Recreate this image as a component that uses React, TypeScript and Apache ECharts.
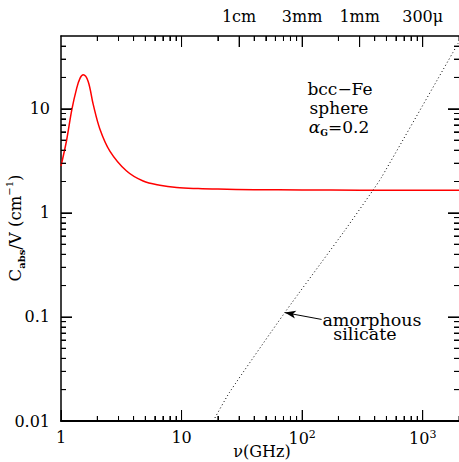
import { useEffect, useRef } from "react";
import * as echarts from "echarts";

// Absorption per unit volume of a bcc-Fe sphere (alpha_G = 0.2) vs frequency
const feFreqGHz = [1, 1.11, 1.23, 1.35, 1.44, 1.53, 1.68, 1.85, 2.1, 2.55, 3.5, 4.8, 6.6, 9.1, 13.7, 20, 40, 100, 300, 1000, 2000];
const feAbs = [2.82, 4.9, 9.8, 15.8, 19.7, 21.2, 18.3, 11.0, 6.4, 3.9, 2.52, 2.02, 1.84, 1.75, 1.71, 1.69, 1.67, 1.66, 1.65, 1.65, 1.65];

// Amorphous silicate for comparison
const silFreqGHz = [18.3, 25.1, 71.8, 225, 387, 454, 2000];
const silAbs = [0.01, 0.019, 0.11, 0.673, 1.65, 2.18, 44];

// Arrow from the "amorphous silicate" label to the curve
const arrowFrom = [145, 0.0946];
const arrowTo = [71.8, 0.11];

// Axis ranges and ticks (GHz, cm^-1)
const xRange = [1, 2000];
const yRange = [0.01, 50];
const xMajor = [1, 10, 100, 1000];
const xMinor = [2, 3, 4, 5, 6, 7, 8, 9, 20, 30, 40, 50, 60, 70, 80, 90, 200, 300, 400, 500, 600, 700, 800, 900, 2000];
const topMajor = [10, 30, 100, 300, 1000];
const topMinor = [2, 3, 4, 5, 6, 7, 8, 9, 20, 40, 50, 60, 70, 80, 90, 200, 400, 500, 600, 700, 800, 900, 2000];
const topLabelFreq = [30, 100, 300, 1000];
const topLabelText = ["1cm", "3mm", "1mm", "300\u03bc"];
const bottomLabelText = ["1", "10", "{b|10}{s|2}", "{b|10}{s|3}"];
const yMajor = [0.01, 0.1, 1, 10];
const yMinor = [0.02, 0.03, 0.04, 0.05, 0.06, 0.07, 0.08, 0.09, 0.2, 0.3, 0.4, 0.5, 0.6, 0.7, 0.8, 0.9, 2, 3, 4, 5, 6, 7, 8, 9, 20, 30, 40];
const yLabelText = ["0.01", "0.1", "1", "10"];

const FONT = "DejaVu Serif";
const WIDTH = 459;
const HEIGHT = 462;
const GRID = { left: 61, right: 0, top: 36, bottom: 41 };
const MAJOR_LEN = 11; // px
const MINOR_LEN = 5; // px

// Decades are plotted on linear value axes; the offsets keep zero off both axes
const X_OFF = 1;
const Y_OFF = 3;
const tx = (v: number) => Math.log10(v) + X_OFF;
const ty = (v: number) => Math.log10(v) + Y_OFF;
const pick = (vals: number[], texts: string[], t: (v: number) => number) => (v: number) => {
  const i = vals.findIndex((a) => Math.abs(t(a) - v) < 1e-6);
  return i >= 0 ? texts[i] : "";
};

const xLo = tx(xRange[0]);
const xHi = tx(xRange[1]);
const yLo = ty(yRange[0]);
const yHi = ty(yRange[1]);
const xPerPx = (xHi - xLo) / (WIDTH - GRID.left - GRID.right);
const yPerPx = (yHi - yLo) / (HEIGHT - GRID.top - GRID.bottom);

// Inward frame ticks as short two-point segments
function frameTicks(): number[][][] {
  const segs: number[][][] = [];
  const addX = (vals: number[], len: number, top: boolean) =>
    vals.forEach((v) => {
      const x = tx(v);
      if (top) segs.push([[x, yHi], [x, yHi - len * yPerPx]]);
      else segs.push([[x, yLo], [x, yLo + len * yPerPx]]);
    });
  const addY = (vals: number[], len: number, right: boolean) =>
    vals.forEach((v) => {
      const y = ty(v);
      if (right) segs.push([[xHi, y], [xHi - len * xPerPx, y]]);
      else segs.push([[xLo, y], [xLo + len * xPerPx, y]]);
    });
  addX(xMajor, MAJOR_LEN, false);
  addX(xMinor, MINOR_LEN, false);
  addX(topMajor, MAJOR_LEN, true);
  addX(topMinor, MINOR_LEN, true);
  addY(yMajor, MAJOR_LEN, false);
  addY(yMinor, MINOR_LEN, false);
  addY(yMajor, MAJOR_LEN, true);
  addY(yMinor, MINOR_LEN, true);
  return segs;
}

const tickStyle = { color: "#000", width: 1 };

function xAxisDef(position: "top" | "bottom", ticks: number[], len: number, extra: any = {}) {
  return {
    type: "value",
    position,
    min: xLo,
    max: xHi,
    axisLine: { show: false },
    axisTick: { show: true, inside: true, length: len, customValues: ticks.map(tx), lineStyle: tickStyle },
    axisLabel: { show: false },
    splitLine: { show: false },
    ...extra,
  };
}

function yAxisDef(position: "left" | "right", ticks: number[], len: number, extra: any = {}) {
  return {
    type: "value",
    position,
    min: yLo,
    max: yHi,
    axisLine: { show: false },
    axisTick: { show: true, inside: true, length: len, customValues: ticks.map(ty), lineStyle: tickStyle },
    axisLabel: { show: false },
    splitLine: { show: false },
    ...extra,
  };
}

export default function App() {
  const ref = useRef<HTMLDivElement>(null);

  useEffect(() => {
    if (!ref.current) return;
    const chart = echarts.init(ref.current, null, { renderer: "svg" });

    const labelBase = { fontFamily: FONT, fontSize: 16, color: "#000" };

    const tickSeries = frameTicks().map((seg) => ({
      name: "tick",
      type: "line",
      data: seg,
      showSymbol: false,
      silent: true,
      lineStyle: { color: "#000", width: 1 },
      z: 4,
    }));

    chart.setOption({
      animation: false,
      backgroundColor: "#fff",
      grid: { ...GRID },
      xAxis: [
        xAxisDef("bottom", xMajor, MAJOR_LEN, {
          axisLine: { show: true, lineStyle: { color: "#000", width: 2 } },
          axisLabel: {
            show: true,
            customValues: xMajor.map(tx),
            margin: 8,
            ...labelBase,
            formatter: pick(xMajor, bottomLabelText, tx),
            rich: {
              b: { ...labelBase, lineHeight: 18 },
              s: { fontFamily: FONT, fontSize: 11, color: "#000", verticalAlign: "top", lineHeight: 11 },
            },
          },
        }),
        xAxisDef("bottom", xMinor, MINOR_LEN),
        xAxisDef("top", topMajor, MAJOR_LEN, {
          axisLine: { show: true, lineStyle: { color: "#000", width: 1.5 } },
          axisLabel: {
            show: true,
            customValues: topLabelFreq.map(tx),
            margin: 12,
            ...labelBase,
            formatter: pick(topLabelFreq, topLabelText, tx),
          },
        }),
        xAxisDef("top", topMinor, MINOR_LEN),
      ],
      yAxis: [
        yAxisDef("left", yMajor, MAJOR_LEN, {
          axisLine: { show: true, lineStyle: { color: "#000", width: 1.5 } },
          axisLabel: {
            show: true,
            customValues: yMajor.map(ty),
            margin: 11,
            ...labelBase,
            formatter: pick(yMajor, yLabelText, ty),
          },
        }),
        yAxisDef("left", yMinor, MINOR_LEN),
        yAxisDef("right", yMajor, MAJOR_LEN),
        yAxisDef("right", yMinor, MINOR_LEN),
      ],
      series: [
        {
          name: "bcc-Fe",
          type: "line",
          xAxisIndex: 0,
          yAxisIndex: 0,
          data: feFreqGHz.map((f, i) => [tx(f), ty(feAbs[i])]),
          showSymbol: false,
          smooth: 0.35,
          lineStyle: { color: "#ff0000", width: 1.5 },
          z: 3,
        },
        {
          name: "amorphous silicate",
          type: "line",
          xAxisIndex: 0,
          yAxisIndex: 0,
          data: silFreqGHz.map((f, i) => [tx(f), ty(silAbs[i])]),
          showSymbol: false,
          smooth: 0.2,
          lineStyle: { color: "#000", width: 1, type: [1, 2.6] },
          markLine: {
            silent: true,
            symbol: ["none", "arrow"],
            symbolSize: [6, 11],
            label: { show: false },
            lineStyle: { color: "#000", width: 1, type: "solid" },
            data: [
              [
                { coord: [tx(arrowFrom[0]), ty(arrowFrom[1])] },
                { coord: [tx(arrowTo[0]), ty(arrowTo[1])] },
              ],
            ],
          },
        },
        ...tickSeries,
      ],
      graphic: [
        {
          type: "text",
          x: 15,
          y: 228,
          rotation: Math.PI / 2,
          style: {
            text: "{n|C}{sub|abs}{n|/V (cm}{sup|\u22121}{n|)}",
            align: "center",
            verticalAlign: "middle",
            rich: {
              n: { fontFamily: FONT, fontSize: 16.5, fill: "#000", lineHeight: 22 },
              sub: { fontFamily: FONT, fontSize: 10, fontWeight: "bold", fill: "#000", verticalAlign: "bottom", lineHeight: 12 },
              sup: { fontFamily: FONT, fontSize: 10, fill: "#000", verticalAlign: "top", lineHeight: 10 },
            },
          },
        },
        { type: "text", x: 262, y: 451, style: { text: "\u03bd(GHz)", fontFamily: FONT, fontSize: 16, fill: "#000", align: "center", verticalAlign: "middle" } },
        { type: "text", x: 340, y: 89, style: { text: "bcc\u2212Fe", fontFamily: FONT, fontSize: 17, fill: "#000", align: "center", verticalAlign: "middle" } },
        { type: "text", x: 339, y: 108, style: { text: "sphere", fontFamily: FONT, fontSize: 17, fill: "#000", align: "center", verticalAlign: "middle" } },
        {
          type: "text",
          x: 339,
          y: 127,
          style: {
            text: "{a|\u03b1}{g|G}{n|=0.2}",
            align: "center",
            verticalAlign: "middle",
            rich: {
              a: { fontFamily: FONT, fontSize: 17, fontStyle: "italic", fill: "#000", lineHeight: 20 },
              g: { fontFamily: FONT, fontSize: 9, fontWeight: "bold", fill: "#000", verticalAlign: "bottom", lineHeight: 11 },
              n: { fontFamily: FONT, fontSize: 17, fill: "#000", lineHeight: 20 },
            },
          },
        },
        {
          type: "text",
          x: 372,
          y: 326.5,
          style: {
            text: "{a|amorphous}\n{s|silicate}",
            align: "center",
            verticalAlign: "middle",
            rich: {
              a: { fontFamily: FONT, fontSize: 17.5, fill: "#000", lineHeight: 14 },
              s: { fontFamily: FONT, fontSize: 17.5, fill: "#000", lineHeight: 14, padding: [0, 14, 0, 0] },
            },
          },
        },
      ],
    });

    return () => chart.dispose();
  }, []);

  return <div ref={ref} style={{ position: "absolute", left: 0, top: 0, width: WIDTH, height: HEIGHT }} />;
}
